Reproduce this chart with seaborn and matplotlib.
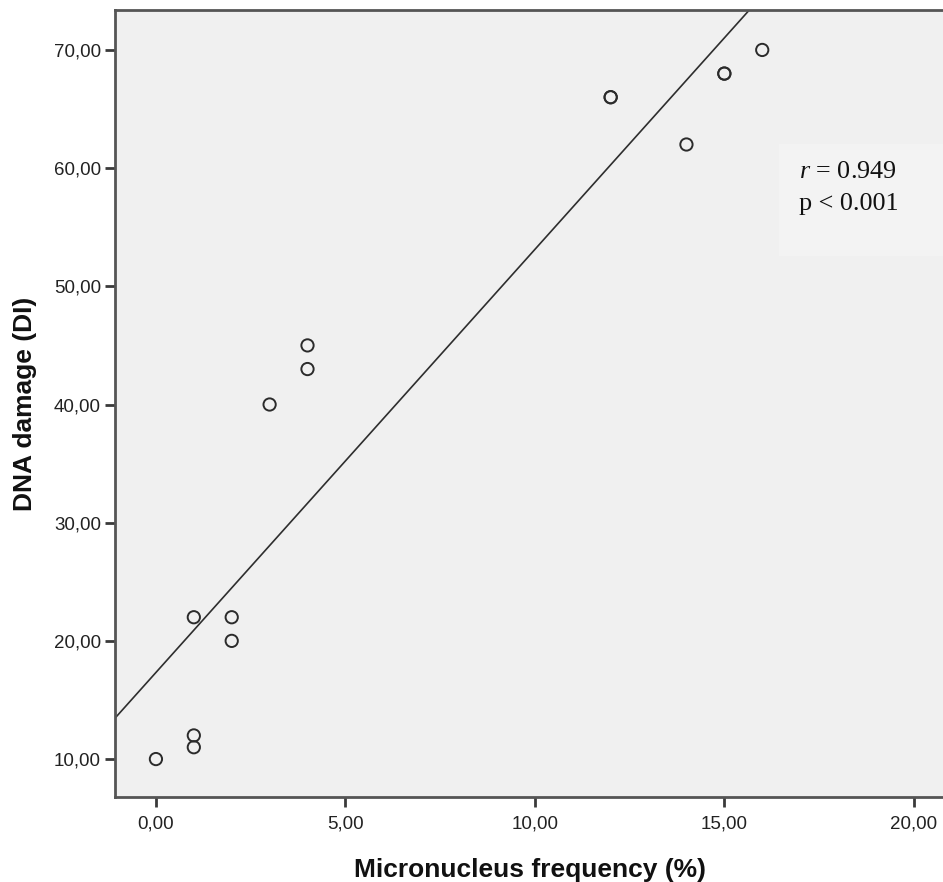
import matplotlib
matplotlib.use("Agg")
import matplotlib.pyplot as plt
from matplotlib.ticker import FuncFormatter, FixedLocator
from matplotlib.patches import Rectangle
import numpy as np
import pandas as pd
import seaborn as sns

# Micronucleus frequency vs DNA damage index, one point per subject
mn_freq = [0, 1, 1, 1, 2, 2, 3, 4, 4, 12, 12, 14, 15, 15, 16]
dna_damage = [10, 12, 11, 22, 22, 20, 40, 45, 43, 66, 66, 62, 68, 68, 70]
x_ticks = [0, 5, 10, 15, 20]
y_ticks = [10, 20, 30, 40, 50, 60, 70]
stat_lines = ["= 0.949", "p < 0.001"]

df = pd.DataFrame({"mn": mn_freq, "dna": dna_damage})

sns.set_style("white")
plt.rcParams["font.family"] = ["Liberation Sans", "DejaVu Sans"]
plt.rcParams["mathtext.fontset"] = "custom"
plt.rcParams["mathtext.it"] = "Liberation Serif:italic"
plt.rcParams["mathtext.rm"] = "Liberation Serif"

fig = plt.figure(figsize=(9.43, 8.82), dpi=100)
ax = fig.add_axes([115 / 943, 1 - 797 / 882, 1 - 115 / 943 + 0.002, (797 - 10) / 882])
ax.set_facecolor("#f0f0f0")

ax.set_xlim(-1.08, 20.82)
ax.set_ylim(6.79, 73.38)

sns.regplot(
    data=df, x="mn", y="dna", ax=ax, ci=None, truncate=False,
    scatter_kws=dict(facecolors="none", edgecolors="#2b2b2b", s=78,
                     linewidths=1.4, alpha=1, zorder=3),
    line_kws=dict(color="#2e2e2e", lw=1.2),
)
ax.set_xlim(-1.08, 20.82)
ax.set_ylim(6.79, 73.38)

fmt = FuncFormatter(lambda v, _: f"{v:.2f}".replace(".", ","))
ax.xaxis.set_major_locator(FixedLocator(x_ticks))
ax.yaxis.set_major_locator(FixedLocator(y_ticks))
ax.xaxis.set_major_formatter(fmt)
ax.yaxis.set_major_formatter(fmt)
ax.tick_params(axis="both", direction="out", length=7, width=2, color="#3a3a3a",
               labelsize=13.5, labelcolor="#222222", pad=3,
               bottom=True, left=True)
ax.tick_params(axis="x", pad=6)

for side in ["left", "bottom", "top", "right"]:
    ax.spines[side].set_color("#555555")
    ax.spines[side].set_linewidth(2)
ax.spines["right"].set_visible(False)

ax.set_xlabel("Micronucleus frequency (%)", fontsize=19, fontweight="bold",
              labelpad=19, color="#111111")
ax.set_ylabel("DNA damage (DI)", fontsize=19, fontweight="bold",
              labelpad=12, color="#111111")

# Statistics box in the upper right
ax.add_patch(Rectangle((0.8007, 0.687), 0.2, 0.1427, transform=ax.transAxes,
                       facecolor="#f3f3f3", edgecolor="none", zorder=1))
ax.text(0.8237, 0.7865, r"$\mathit{r}$" + " " + stat_lines[0], transform=ax.transAxes,
        fontsize=18.8, family="Liberation Serif", va="baseline", ha="left",
        color="#111111", zorder=4)
ax.text(0.8237, 0.7459, stat_lines[1], transform=ax.transAxes,
        fontsize=18.8, family="Liberation Serif", va="baseline", ha="left",
        color="#111111", zorder=4)

fig.savefig("out.png", dpi=100, facecolor="white")
